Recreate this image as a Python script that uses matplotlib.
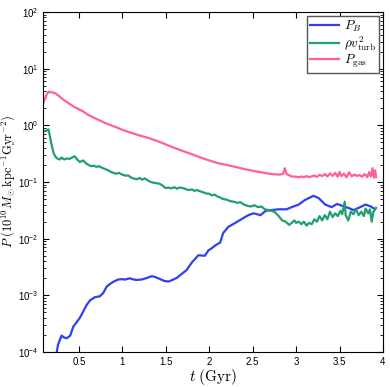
import matplotlib
matplotlib.use("Agg")
import matplotlib.pyplot as plt
from matplotlib.ticker import LogLocator, NullFormatter

plt.rcParams['font.family'] = ['Liberation Sans', 'DejaVu Sans']
plt.rcParams['mathtext.fontset'] = 'cm'

# P_B (magnetic pressure)
t_B = [0.23, 0.245, 0.26, 0.275, 0.3, 0.33, 0.36, 0.4, 0.42, 0.435, 0.47, 0.51,
       0.55, 0.59, 0.63, 0.685, 0.74, 0.78, 0.82, 0.86, 0.9, 0.95, 0.99, 1.03,
       1.09, 1.13, 1.17, 1.22, 1.27, 1.34, 1.38, 1.43, 1.48, 1.53, 1.58, 1.63,
       1.67, 1.74, 1.8, 1.875, 1.95, 1.99, 2.03, 2.08, 2.125, 2.16, 2.22, 2.3,
       2.39, 2.45, 2.51, 2.59, 2.65, 2.72, 2.8, 2.89, 2.95, 3.03, 3.1, 3.2,
       3.26, 3.335, 3.41, 3.47, 3.53, 3.6, 3.66, 3.72, 3.8, 3.86, 3.91]
P_B = [0.00007, 0.0001, 0.000135, 0.000155, 0.000195, 0.00018, 0.000175, 0.000195,
       0.00024, 0.00028, 0.00033, 0.0004, 0.00052, 0.00068, 0.00082, 0.00093,
       0.00096, 0.0011, 0.00143, 0.0016, 0.00175, 0.0019, 0.00193, 0.0019,
       0.002, 0.0019, 0.00187, 0.0019, 0.002, 0.00218, 0.0021, 0.00195, 0.0018,
       0.00175, 0.00188, 0.00205, 0.0023, 0.0028, 0.0038, 0.0051, 0.005, 0.0062,
       0.0068, 0.0078, 0.0085, 0.0125, 0.0162, 0.019, 0.023, 0.026, 0.028, 0.026,
       0.031, 0.032, 0.033, 0.033, 0.036, 0.04, 0.048, 0.057, 0.052, 0.04, 0.036,
       0.041, 0.038, 0.035, 0.032, 0.035, 0.04, 0.037, 0.033]

# rho v_turb^2 (turbulent pressure)
t_turb = [0.09, 0.12, 0.15, 0.17, 0.19, 0.21, 0.23, 0.25, 0.28, 0.3, 0.33, 0.36,
          0.39, 0.42, 0.45, 0.48, 0.51, 0.55, 0.58, 0.61, 0.64, 0.67, 0.7, 0.73,
          0.76, 0.8, 0.84, 0.87, 0.9, 0.93, 0.96, 1.0, 1.03, 1.07, 1.1, 1.13,
          1.17, 1.2, 1.23, 1.26, 1.3, 1.33, 1.36, 1.4, 1.43, 1.46, 1.5, 1.53,
          1.56, 1.6, 1.63, 1.66, 1.7, 1.73, 1.76, 1.8, 1.83, 1.86, 1.9, 1.93,
          1.96, 2.0, 2.03, 2.06, 2.1, 2.13, 2.16, 2.2, 2.24, 2.28, 2.32, 2.36,
          2.4, 2.44, 2.48, 2.52, 2.56, 2.6, 2.64, 2.68, 2.72, 2.76, 2.8, 2.84,
          2.88, 2.92, 2.95, 2.98, 3.0, 3.03, 3.06, 3.09, 3.12, 3.15, 3.18, 3.21,
          3.24, 3.27, 3.3, 3.33, 3.36, 3.39, 3.42, 3.45, 3.48, 3.51, 3.53, 3.56,
          3.57, 3.6, 3.63, 3.66, 3.69, 3.72, 3.75, 3.78, 3.8, 3.83, 3.85, 3.87,
          3.89, 3.92]
P_turb = [0.79, 0.8, 0.85, 0.6, 0.42, 0.32, 0.28, 0.26, 0.25, 0.27, 0.25, 0.26,
          0.255, 0.27, 0.285, 0.25, 0.225, 0.24, 0.215, 0.2, 0.19, 0.195, 0.185, 0.19,
          0.18, 0.17, 0.16, 0.15, 0.145, 0.14, 0.145, 0.135, 0.13, 0.13, 0.12, 0.115,
          0.112, 0.118, 0.11, 0.116, 0.105, 0.1, 0.097, 0.095, 0.093, 0.087, 0.078, 0.08,
          0.077, 0.081, 0.076, 0.08, 0.078, 0.075, 0.072, 0.074, 0.07, 0.072, 0.068, 0.066,
          0.063, 0.062, 0.058, 0.06, 0.055, 0.053, 0.05, 0.049, 0.046, 0.045, 0.043, 0.044,
          0.04, 0.038, 0.037, 0.039, 0.036, 0.037, 0.033, 0.032, 0.031, 0.029, 0.025, 0.021,
          0.02, 0.0175, 0.019, 0.021, 0.019, 0.02, 0.018, 0.02, 0.017, 0.019, 0.018, 0.022,
          0.02, 0.025, 0.021, 0.026, 0.022, 0.03, 0.024, 0.028, 0.025, 0.031, 0.027, 0.045,
          0.026, 0.021, 0.03, 0.027, 0.033, 0.026, 0.03, 0.025, 0.034, 0.028, 0.033, 0.02,
          0.03, 0.035]

# P_gas (thermal pressure)
t_gas = [0.09, 0.12, 0.15, 0.17, 0.2, 0.23, 0.27, 0.3, 0.35, 0.4, 0.45, 0.5,
         0.55, 0.6, 0.65, 0.7, 0.75, 0.8, 0.85, 0.9, 0.95, 1.0, 1.1, 1.2,
         1.3, 1.4, 1.5, 1.6, 1.7, 1.8, 1.9, 2.0, 2.1, 2.2, 2.3, 2.4,
         2.5, 2.6, 2.7, 2.8, 2.85, 2.87, 2.89, 2.95, 3.0, 3.03, 3.06, 3.09,
         3.12, 3.15, 3.18, 3.21, 3.24, 3.27, 3.3, 3.33, 3.36, 3.39, 3.42, 3.45,
         3.48, 3.5, 3.52, 3.55, 3.58, 3.61, 3.64, 3.67, 3.7, 3.73, 3.76, 3.79,
         3.82, 3.84, 3.86, 3.88, 3.895, 3.91, 3.92]
P_gas = [2.45, 3.3, 3.9, 3.85, 3.8, 3.65, 3.3, 3.0, 2.65, 2.35, 2.1, 1.92,
         1.75, 1.55, 1.42, 1.3, 1.2, 1.1, 1.03, 0.96, 0.9, 0.83, 0.74, 0.66,
         0.6, 0.53, 0.46, 0.4, 0.35, 0.31, 0.27, 0.24, 0.215, 0.2, 0.185, 0.17,
         0.158, 0.148, 0.139, 0.135, 0.138, 0.175, 0.138, 0.125, 0.124, 0.121, 0.125, 0.122,
         0.127, 0.121, 0.126, 0.13, 0.123, 0.134, 0.127, 0.138, 0.125, 0.142, 0.128, 0.145,
         0.124, 0.15, 0.127, 0.14, 0.121, 0.148, 0.126, 0.135, 0.128, 0.132, 0.124, 0.138,
         0.122, 0.15, 0.125, 0.175, 0.12, 0.16, 0.122]

fig = plt.figure(figsize=(3.9, 3.87), dpi=100)
ax = fig.add_axes([0.111, 0.0904, 0.871, 0.8786])

ax.plot(t_B, P_B, color='#3040f0', lw=1.6, label=r'$P_B$')
ax.plot(t_turb, P_turb, color='#20a070', lw=1.6, label=r'$\rho v_{\rm turb}^2$')
ax.plot(t_gas, P_gas, color='#ff5f9a', lw=1.6, label=r'$P_{\rm gas}$')

ax.set_yscale('log')
ax.set_xlim(0.09, 4)
ax.set_ylim(1e-4, 1e2)
ax.set_xticks([0.5, 1, 1.5, 2, 2.5, 3, 3.5, 4])
ax.set_xticklabels(['0.5', '1', '1.5', '2', '2.5', '3', '3.5', '4'])
ax.yaxis.set_minor_locator(LogLocator(base=10, subs=range(2, 10), numticks=20))
ax.yaxis.set_minor_formatter(NullFormatter())
ax.tick_params(which='both', direction='in', top=True, right=True, labelsize=7)
ax.tick_params(which='major', length=4)
ax.tick_params(which='minor', length=2)

ax.set_xlabel(r'$t\ \mathrm{(Gyr)}$', fontsize=11)
ax.xaxis.set_label_coords(0.5, -0.043)
ax.set_ylabel(r'$P\ (10^{10}M_\odot\mathrm{kpc}^{-1}\mathrm{Gyr}^{-2})$', fontsize=9)
ax.yaxis.set_label_coords(-0.077, 0.5)

leg = ax.legend(loc='upper right', fontsize=9.5, fancybox=False, framealpha=1,
                edgecolor='#555555', handlelength=2.2, borderpad=0.2,
                labelspacing=0.0, handletextpad=0.4, borderaxespad=0.3)

plt.savefig('out.png', dpi=100)
